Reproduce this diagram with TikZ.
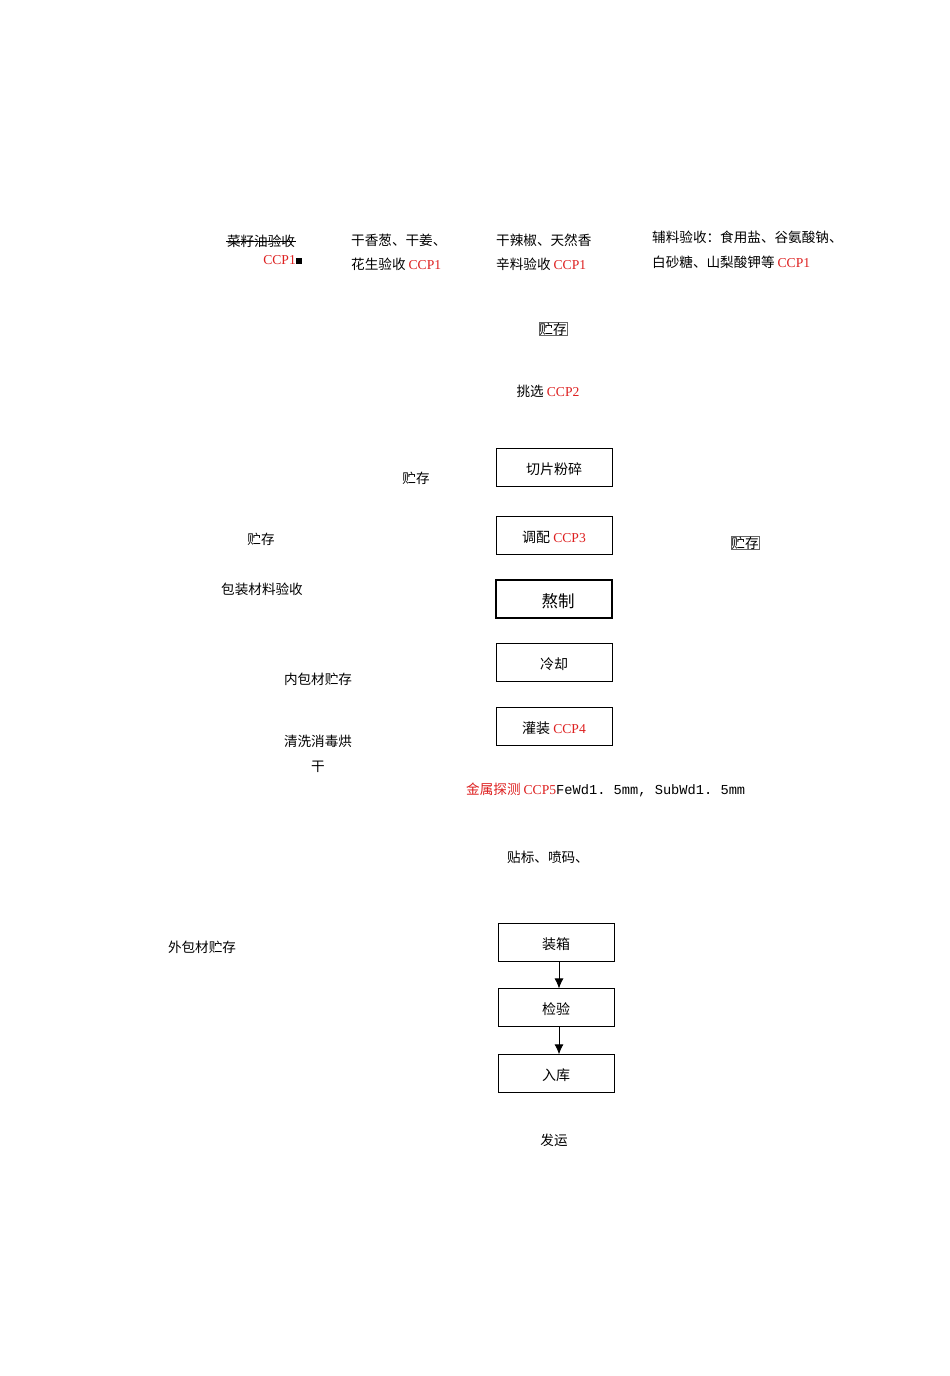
\documentclass[tikz,border=0pt]{standalone}
\usepackage{fontspec}
\setmainfont{Liberation Serif}
\setmonofont{Liberation Mono}
\newfontfamily\cjk{Noto Sans CJK SC}
\usetikzlibrary{arrows.meta,positioning}
\definecolor{ccpred}{RGB}{222,32,32}
\newcommand{\ccp}[1]{{\rmfamily\fontsize{13.6}{24}\selectfont\color{ccpred}#1}}
\tikzset{
  word/.style={
  font=\cjk\fontsize{13.6}{24}\selectfont,
  inner sep=1pt,
  },
  stepbox/.style={
  draw,
  line width=0.9pt,
  minimum width=116pt,
  minimum height=38pt,
  text height=14pt,
  text depth=0pt,
  font=\cjk\fontsize{14}{16}\selectfont,
  },
  smallbox/.style={
  word,
  draw=black!60,
  line width=0.6pt,
  inner sep=0.5pt,
  },
}
\begin{document}
\begin{tikzpicture}[x=1pt,y=-1pt,>={Latex[length=10pt,width=9pt]}]
\useasboundingbox[fill=white] (0,0) rectangle (950,1376);

% raw materials
\node[word](oil) at (261,241){菜籽油验收};
\draw[line width=0.7pt] (oil.west) -- (oil.east);
\node[word,anchor=east](oilccp) at (303,260){\ccp{CCP1}\rule{6pt}{6pt}};
\node[word,anchor=west,align=left](onion) at (350,252){干香葱、干姜、\\花生验收 \ccp{CCP1}};
\node[word,anchor=west,align=left](pepper) at (495,252){干辣椒、天然香\\辛料验收 \ccp{CCP1}};
\node[word,anchor=west,align=left,font=\cjk\fontsize{13.6}{25}\selectfont](aux) at (651,250){辅料验收：食用盐、谷氨酸钠、\\白砂糖、山梨酸钾等 \ccp{CCP1}};

% storage and picking
\node[smallbox](store1) at (553,329){贮存};
\node[word](pick) at (548,391){挑选 \ccp{CCP2}};
\node[word](store2) at (416,478){贮存};
\node[word](store3) at (261,539){贮存};
\node[smallbox](store4) at (745,543){贮存};

% main line
\node[stepbox](cut) at (554,467){切片粉碎};
\node[stepbox](mix) at (554,535){调配 \ccp{CCP3}};
\node[stepbox,line width=1.2pt,text height=16pt,font=\cjk\fontsize{16.5}{18}\selectfont](boil) at (554,599){\hspace*{8pt}熬制};
\node[stepbox](cool) at (554,662){冷却};
\node[stepbox](fill) at (554,726){灌装 \ccp{CCP4}};

% packing material
\node[word](pack) at (262,589){包装材料验收};
\node[word](inner) at (318,679){内包材贮存};
\node[word,align=center,font=\cjk\fontsize{13.6}{25}\selectfont](wash) at (318,754){清洗消毒烘\\干};
\node[word](outer) at (202,947){外包材贮存};

% detection and labelling
\node[word,anchor=west](metal) at (465,790){{\color{ccpred}金属探测 \rmfamily CCP5}{\ttfamily\fontsize{13.7}{16}\selectfont FeWd1. 5mm, SubWd1. 5mm}};
\node[word](label) at (548,857){贴标、喷码、};

\begin{scope}[node distance=27pt]
\node[stepbox](box) at (556,942){装箱};
\node[stepbox,below = of box](check){检验};
\node[stepbox,below = of check](stock){入库};
\end{scope}
\node[word](ship) at (554,1140){发运};

% arrows
\draw[->,line width=0.9pt] ([xshift=3pt]box.south) -- ([xshift=3pt]check.north);
\draw[->,line width=0.9pt] ([xshift=3pt]check.south) -- ([xshift=3pt]stock.north);

\end{tikzpicture}
\end{document}
